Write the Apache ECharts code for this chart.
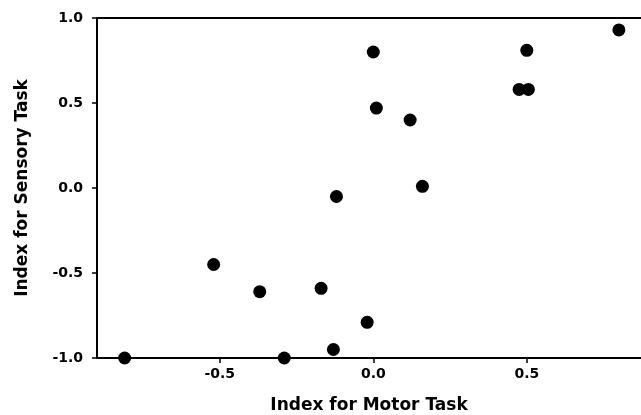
<!DOCTYPE html>
<html>
<head>
<meta charset="utf-8">
<script src="https://cdn.jsdelivr.net/npm/echarts@6/dist/echarts.min.js"></script>
<style>
html,body{margin:0;padding:0;background:#fff;}
#chart{width:641px;height:415px;}
</style>
</head>
<body>
<div id="chart"></div>
<script>
const motorIndex   = [-0.81, -0.52, -0.37, -0.29, -0.17, -0.13, -0.12, -0.02, 0.00, 0.01, 0.12, 0.16, 0.475, 0.505, 0.50, 0.80];
const sensoryIndex = [-1.00, -0.45, -0.61, -1.00, -0.59, -0.95, -0.05, -0.79, 0.80, 0.47, 0.40, 0.01, 0.58, 0.58, 0.81, 0.93];
const xRange = [-0.9, 0.872];
const xTitle = 'Index for Motor Task';
const yTitle = 'Index for Sensory Task';

const points = motorIndex.map((x, i) => [x, sensoryIndex[i]]);
const font = 'DejaVu Sans, Arial, sans-serif';

const chart = echarts.init(document.getElementById('chart'), null, {renderer: 'canvas'});
chart.setOption({
  animation: false,
  backgroundColor: '#fff',
  grid: {left: 97, top: 18, bottom: 57, right: 0, containLabel: false, outerBoundsMode: 'none'},
  xAxis: [{
    type: 'value', min: xRange[0], max: xRange[1], splitNumber: 4,
    name: xTitle, nameLocation: 'middle', nameGap: 39,
    nameTextStyle: {color: '#000', fontFamily: font, fontWeight: 'bold', fontSize: 17},
    axisLine: {show: true, onZero: false, lineStyle: {color: '#000', width: 2}},
    axisTick: {show: true, length: 5, lineStyle: {color: '#000', width: 1.5}},
    axisLabel: {color: '#000', fontFamily: font, fontWeight: 'bold', fontSize: 14, margin: 9,
      showMinLabel: false, showMaxLabel: false,
      formatter: v => (Math.abs(v * 2 - Math.round(v * 2)) < 1e-9) ? v.toFixed(1) : ''},
    splitLine: {show: false}
  }, {
    type: 'value', min: xRange[0], max: xRange[1], position: 'top',
    axisLine: {show: true, onZero: false, lineStyle: {color: '#000', width: 2}},
    axisTick: {show: false}, axisLabel: {show: false}, splitLine: {show: false}
  }],
  yAxis: {
    type: 'value', min: -1, max: 1, interval: 0.5,
    name: yTitle, nameLocation: 'middle', nameGap: 66, nameRotate: 90,
    nameTextStyle: {color: '#000', fontFamily: font, fontWeight: 'bold', fontSize: 17},
    axisLine: {show: true, onZero: false, lineStyle: {color: '#000', width: 2}},
    axisTick: {show: true, length: 5, lineStyle: {color: '#000', width: 1.5}},
    axisLabel: {color: '#000', fontFamily: font, fontWeight: 'bold', fontSize: 14, margin: 14,
      formatter: v => v.toFixed(1)},
    splitLine: {show: false}
  },
  series: [{
    type: 'scatter', data: points, symbol: 'circle', symbolSize: 13,
    itemStyle: {color: '#000', opacity: 1}, clip: false, z: 5
  }]
});
</script>
</body>
</html>
